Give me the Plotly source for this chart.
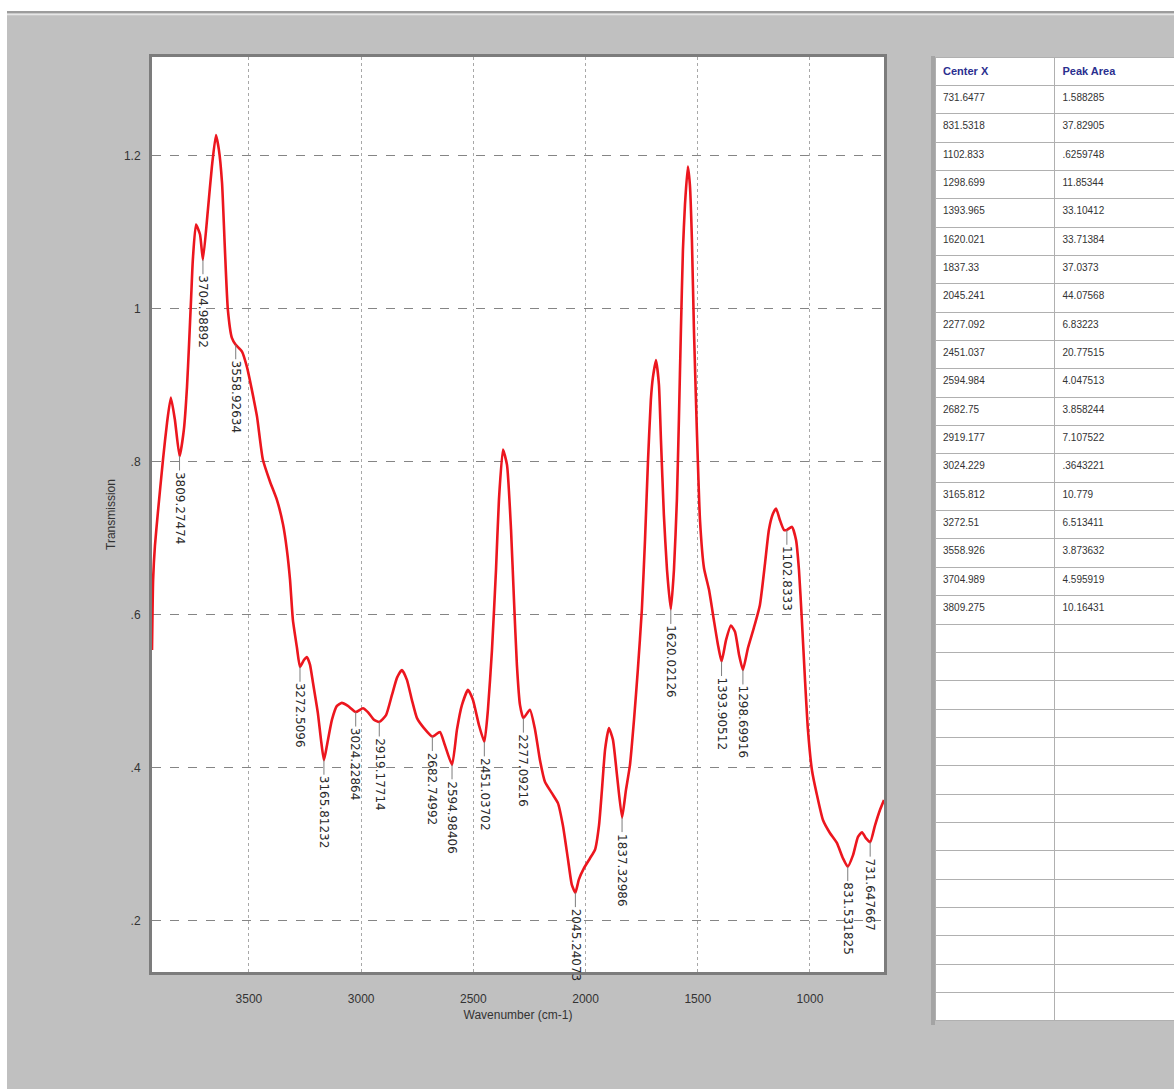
import numpy as np
import plotly.graph_objects as go

W, H = 1174, 1089

# IR spectrum trace (wavenumber in cm-1, transmission)
wavenumber = [3932, 3927, 3919, 3906, 3883, 3865, 3848, 3830, 3809, 3790, 3776, 3767, 3758,
              3750, 3736, 3718, 3705, 3683, 3665, 3647, 3634, 3620, 3607, 3594, 3576, 3559,
              3531, 3509, 3487, 3464, 3438, 3406, 3375, 3348, 3331, 3317, 3304, 3286, 3272.5,
              3255, 3242, 3228, 3215, 3193, 3179, 3165.8, 3152, 3130, 3108, 3086, 3059, 3024.2,
              2992, 2970, 2943, 2919.2, 2889, 2863, 2840, 2818, 2796, 2774, 2751, 2720, 2682.7,
              2649, 2627, 2594.9, 2573, 2551, 2524, 2502, 2475, 2451, 2435, 2417, 2399, 2386,
              2368, 2350, 2332, 2319, 2306, 2292, 2277.1, 2248, 2225, 2203, 2181, 2150, 2123,
              2101, 2078, 2061, 2045.2, 2030, 2007, 1980, 1958, 1940, 1927, 1913, 1896, 1878,
              1860, 1837.3, 1820, 1802, 1784, 1767, 1749, 1735, 1722, 1709, 1700, 1686, 1673,
              1664, 1651, 1637, 1620, 1606, 1593, 1584, 1575, 1566, 1557, 1544, 1535, 1526,
              1517, 1504, 1490, 1472, 1450, 1428, 1410, 1393.9, 1374, 1352, 1334, 1316, 1298.7,
              1276, 1250, 1223, 1200, 1183, 1165, 1151, 1134, 1116, 1102.8, 1080, 1062, 1049,
              1036, 1022, 1009, 991, 969, 942, 911, 880, 853, 831.5, 808, 786, 768, 750, 731.6,
              710, 688, 670]
transmission = [0.554, 0.646, 0.690, 0.733, 0.803, 0.851, 0.884, 0.855, 0.807, 0.842, 0.898, 0.953, 1.012,
                1.064, 1.110, 1.097, 1.064, 1.129, 1.186, 1.227, 1.208, 1.165, 1.077, 0.999, 0.962, 0.953,
                0.944, 0.924, 0.894, 0.859, 0.803, 0.774, 0.750, 0.718, 0.685, 0.646, 0.593, 0.557, 0.532,
                0.541, 0.545, 0.535, 0.512, 0.472, 0.437, 0.410, 0.430, 0.463, 0.481, 0.485, 0.481, 0.473,
                0.478, 0.473, 0.463, 0.460, 0.469, 0.495, 0.518, 0.528, 0.515, 0.489, 0.465, 0.452, 0.441,
                0.447, 0.430, 0.404, 0.450, 0.482, 0.502, 0.489, 0.456, 0.434, 0.476, 0.554, 0.659, 0.750,
                0.816, 0.796, 0.711, 0.620, 0.535, 0.482, 0.465, 0.476, 0.450, 0.410, 0.382, 0.367, 0.354,
                0.325, 0.280, 0.247, 0.237, 0.254, 0.269, 0.282, 0.293, 0.325, 0.371, 0.424, 0.452, 0.437,
                0.391, 0.335, 0.371, 0.404, 0.463, 0.528, 0.607, 0.698, 0.799, 0.881, 0.910, 0.933, 0.901,
                0.829, 0.731, 0.659, 0.607, 0.659, 0.750, 0.855, 0.973, 1.077, 1.136, 1.186, 1.162, 1.090,
                0.973, 0.842, 0.724, 0.661, 0.633, 0.593, 0.561, 0.539, 0.567, 0.586, 0.578, 0.548, 0.528,
                0.557, 0.583, 0.613, 0.668, 0.711, 0.732, 0.739, 0.724, 0.711, 0.711, 0.715, 0.698, 0.659,
                0.593, 0.515, 0.450, 0.397, 0.365, 0.332, 0.315, 0.302, 0.282, 0.271, 0.286, 0.310, 0.316,
                0.308, 0.303, 0.325, 0.345, 0.358]

# picked peak labels
peak_labels = ["3809.27474", "3704.98892", "3558.92634", "3272.5096", "3165.81232",
               "3024.22864", "2919.17714", "2682.74992", "2594.98406", "2451.03702",
               "2277.09216", "2045.24073", "1837.32986", "1620.02126", "1393.90512",
               "1298.69916", "1102.8333", "831.531825", "731.647667"]

# peak table
center_x = ["731.6477", "831.5318", "1102.833", "1298.699", "1393.965", "1620.021", "1837.33",
            "2045.241", "2277.092", "2451.037", "2594.984", "2682.75", "2919.177", "3024.229",
            "3165.812", "3272.51", "3558.926", "3704.989", "3809.275"]
peak_area = ["1.588285", "37.82905", ".6259748", "11.85344", "33.10412", "33.71384", "37.0373",
             "44.07568", "6.83223", "20.77515", "4.047513", "3.858244", "7.107522", ".3643221",
             "10.779", "6.513411", "3.873632", "4.595919", "10.16431"]
empty_rows = 14

y_ticks = [0.2, 0.4, 0.6, 0.8, 1.0, 1.2]
y_tick_text = [".2", ".4", ".6", ".8", "1", "1.2"]
x_ticks = [3500, 3000, 2500, 2000, 1500, 1000]

# plot-area placement in pixels
PL, PR, PT, PB = 152, 884, 57, 972


def px_x(p):
    return p / W


def px_y(p):
    return 1 - p / H


fig = go.Figure()

fig.add_trace(go.Scatter(
    x=wavenumber, y=transmission, mode="lines",
    line=dict(color="rgb(236,22,30)", width=2.6, shape="spline", smoothing=0.5),
    hoverinfo="skip", showlegend=False,
))

# vertical peak labels with leader lines
wn_inc = np.array(wavenumber[::-1], dtype=float)
tr_inc = np.array(transmission[::-1], dtype=float)
annotations = []
for lab in peak_labels:
    xv = float(lab)
    yv = float(np.interp(xv, wn_inc, tr_inc))
    half = len(lab) * 7.3 / 2
    annotations.append(dict(
        x=xv, y=yv, xref="x", yref="y", text=lab, textangle=90,
        showarrow=True, arrowhead=0, arrowwidth=1, arrowcolor="#7d7d7d",
        ax=0, ay=16 + half,
        font=dict(family="DejaVu Sans", size=12, color="#2a2a2a"),
    ))

# peak table
rows_x = center_x + [""] * empty_rows
rows_a = peak_area + [""] * empty_rows
row_h = 28.35
fig.add_trace(go.Table(
    domain=dict(x=[px_x(935), 1.0], y=[px_y(57 + row_h * 34 + 1), px_y(57)]),
    columnwidth=[122, 122],
    header=dict(values=["<b>Center X</b>", "<b>Peak Area</b>"], height=row_h, align="left",
                fill_color="white", line=dict(color="#b0b0b0", width=1),
                font=dict(family="Liberation Sans Narrow, Liberation Sans, Arial", size=11, color="#2b2f8f")),
    cells=dict(values=[rows_x, rows_a], height=row_h, align="left",
               fill_color="white", line=dict(color="#b0b0b0", width=1),
               font=dict(family="Liberation Sans Narrow, Liberation Sans, Arial", size=10, color="#333333")),
))

shapes = [
    # white window strip at the top and left edge
    dict(type="rect", xref="paper", yref="paper", x0=0, x1=1, y0=px_y(11), y1=1,
         fillcolor="white", line_width=0, layer="below"),
    dict(type="rect", xref="paper", yref="paper", x0=0, x1=px_x(7), y0=0, y1=1,
         fillcolor="white", line_width=0, layer="below"),
    dict(type="line", xref="paper", yref="paper", x0=px_x(7), x1=1, y0=px_y(12), y1=px_y(12),
         line=dict(color="#9c9c9c", width=2)),
    dict(type="line", xref="paper", yref="paper", x0=px_x(7), x1=1, y0=px_y(14.5), y1=px_y(14.5),
         line=dict(color="#e6e6e6", width=1.5)),
    # table left edge
    dict(type="line", xref="paper", yref="paper", x0=px_x(933), x1=px_x(933),
         y0=px_y(1025), y1=px_y(56), line=dict(color="#a4a4a4", width=4)),
]

fig.update_layout(
    width=W, height=H,
    margin=dict(l=0, r=0, t=0, b=0),
    paper_bgcolor="#c0c0c0",
    plot_bgcolor="white",
    showlegend=False,
    annotations=annotations,
    shapes=shapes,
    font=dict(family="Liberation Sans Narrow, Liberation Sans, Arial", color="#333333"),
    xaxis=dict(
        domain=[px_x(PL), px_x(PR)],
        range=[3932, 670], tickmode="array", tickvals=x_ticks,
        ticks="", ticklabelstandoff=14,
        tickfont=dict(size=12, color="#333333"),
        showgrid=True, gridcolor="#a8a8a8", griddash="dot", gridwidth=1,
        zeroline=False,
        showline=True, linecolor="#7c7c7c", linewidth=3, mirror=True,
        title=dict(text="Wavenumber (cm-1)", font=dict(size=12, color="#333333"), standoff=6),
    ),
    yaxis=dict(
        domain=[px_y(PB), px_y(PT)],
        range=[0.1333, 1.329], tickmode="array", tickvals=y_ticks, ticktext=y_tick_text,
        ticks="", ticklabelstandoff=6,
        tickfont=dict(size=12, color="#333333"),
        showgrid=True, gridcolor="#858585", griddash="dash", gridwidth=1,
        zeroline=False,
        showline=True, linecolor="#7c7c7c", linewidth=3, mirror=True,
        title=dict(text="Transmission", font=dict(size=12, color="#333333"), standoff=6),
    ),
)

fig.write_html("out.html")
